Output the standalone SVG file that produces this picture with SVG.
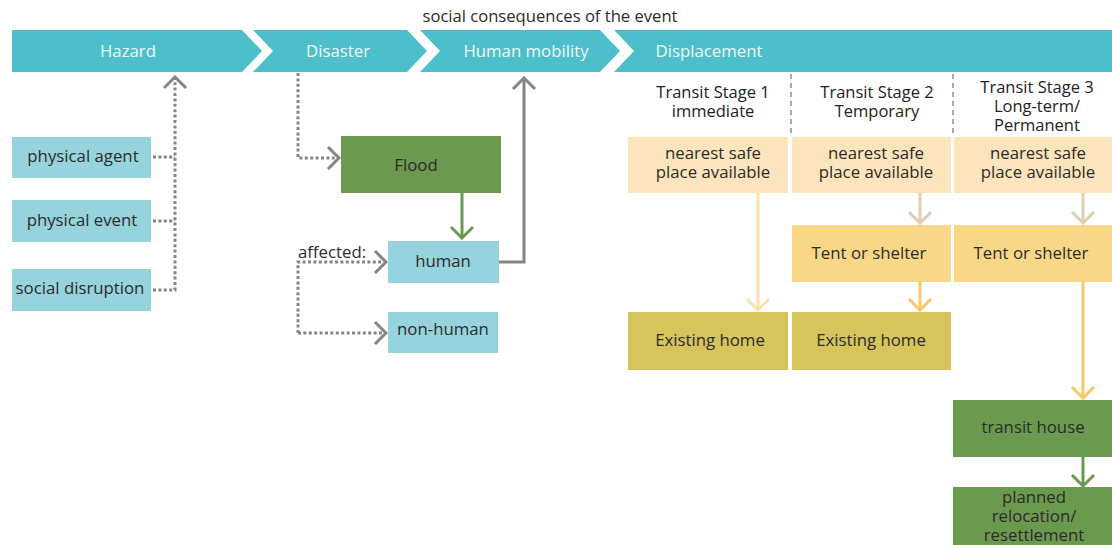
<svg xmlns="http://www.w3.org/2000/svg" width="1112" height="545" viewBox="0 0 1112 545">
  <style>
    text { font-family: "Open Sans", "Noto Sans", "Liberation Sans", sans-serif; fill: #2b2b2b; }
    .band { fill: #4dbfca; }
    .band-label { fill: #eefafb; font-size: 16.8px; text-anchor: middle; }
    .title { font-size: 16.6px; text-anchor: middle; }
    .lbl { font-size: 16.8px; text-anchor: middle; }
    .head { font-size: 16.5px; text-anchor: middle; fill: #222; }
    .blue { fill: #96d3dd; }
    .green { fill: #6b9a4f; }
    .peach { fill: #fce5bc; }
    .sand { fill: #f9d786; }
    .olive { fill: #d5c55b; }
    .dot { fill: none; stroke: #858585; stroke-width: 3; stroke-dasharray: 3 2.4; }
    .gray { fill: none; stroke: #858585; stroke-width: 3; }
    .sep { fill: none; stroke: #555; stroke-width: 1; stroke-dasharray: 5 4; }
  </style>
  <defs>
    <marker id="ah-gray" viewBox="-13 -13 15 26" refX="0" refY="0" markerWidth="15" markerHeight="26" markerUnits="userSpaceOnUse" orient="auto">
      <path d="M-11,-11 L0,0 L-11,11" fill="none" stroke="#858585" stroke-width="3"/>
    </marker>
    <marker id="ah-green" viewBox="-13 -13 15 26" refX="0" refY="0" markerWidth="15" markerHeight="26" markerUnits="userSpaceOnUse" orient="auto">
      <path d="M-11,-11 L0,0 L-11,11" fill="none" stroke="#6b9a4f" stroke-width="3"/>
    </marker>
    <marker id="ah-light" viewBox="-13 -13 15 26" refX="0" refY="0" markerWidth="15" markerHeight="26" markerUnits="userSpaceOnUse" orient="auto">
      <path d="M-11,-11 L0,0 L-11,11" fill="none" stroke="#fbe0ae" stroke-width="3"/>
    </marker>
    <marker id="ah-beige" viewBox="-13 -13 15 26" refX="0" refY="0" markerWidth="15" markerHeight="26" markerUnits="userSpaceOnUse" orient="auto">
      <path d="M-11,-11 L0,0 L-11,11" fill="none" stroke="#dccdb3" stroke-width="3"/>
    </marker>
    <marker id="ah-orange" viewBox="-13 -13 15 26" refX="0" refY="0" markerWidth="15" markerHeight="26" markerUnits="userSpaceOnUse" orient="auto">
      <path d="M-11,-11 L0,0 L-11,11" fill="none" stroke="#f8c868" stroke-width="3"/>
    </marker>
  </defs>

  <rect width="1112" height="545" fill="#ffffff"/>

  <text class="title" x="550" y="22">social consequences of the event</text>

  <!-- process band -->
  <g id="band-hazard">
    <path class="band" d="M12,30 H242 L262,51 L242,72 H12 Z"/>
    <text class="band-label" x="128" y="57">Hazard</text>
  </g>
  <g id="band-disaster">
    <path class="band" d="M253,30 H407 L427,51 L407,72 H253 L273,51 Z"/>
    <text class="band-label" x="338" y="57">Disaster</text>
  </g>
  <g id="band-mobility">
    <path class="band" d="M420,30 H600 L620,51 L600,72 H420 L440,51 Z"/>
    <text class="band-label" x="526" y="57">Human mobility</text>
  </g>
  <g id="band-displacement">
    <path class="band" d="M614,30 H1112 V72 H614 L634,51 Z"/>
    <text class="band-label" x="709" y="57">Displacement</text>
  </g>

  <!-- stage headers -->
  <g id="stage-1">
    <text class="head" x="713" y="98">Transit Stage 1</text>
    <text class="head" x="713" y="117">immediate</text>
  </g>
  <g id="stage-2">
    <text class="head" x="877" y="98">Transit Stage 2</text>
    <text class="head" x="877" y="117">Temporary</text>
  </g>
  <g id="stage-3">
    <text class="head" x="1037" y="93">Transit Stage 3</text>
    <text class="head" x="1037" y="112">Long-term/</text>
    <text class="head" x="1037" y="131">Permanent</text>
  </g>
  <g id="separators">
    <line class="sep" x1="791" y1="74" x2="791" y2="136"/>
    <line class="sep" x1="953" y1="74" x2="953" y2="136"/>
  </g>

  <!-- connectors -->
  <g id="connectors">
    <path class="dot" d="M153,157 H175"/>
    <path class="dot" d="M153,221 H175"/>
    <path class="dot" d="M153,290 H175 V77" marker-end="url(#ah-gray)"/>
    <path class="dot" d="M298,73 V158 H339" marker-end="url(#ah-gray)"/>
    <path class="dot" d="M298,333 V262 H386" marker-end="url(#ah-gray)"/>
    <path class="dot" d="M298,333 H386" marker-end="url(#ah-gray)"/>
    <path fill="none" stroke="#6b9a4f" stroke-width="3" d="M462,193 V238" marker-end="url(#ah-green)"/>
    <path class="gray" d="M499,262 H524 V78" marker-end="url(#ah-gray)"/>
    <path fill="none" stroke="#fbe0ae" stroke-width="3" d="M758,193 V310" marker-end="url(#ah-light)"/>
    <path fill="none" stroke="#dccdb3" stroke-width="3" d="M920,193 V223" marker-end="url(#ah-beige)"/>
    <path fill="none" stroke="#f8c868" stroke-width="3" d="M920,282 V310" marker-end="url(#ah-orange)"/>
    <path fill="none" stroke="#dccdb3" stroke-width="3" d="M1083,193 V223" marker-end="url(#ah-beige)"/>
    <path fill="none" stroke="#f8c868" stroke-width="3" d="M1083,282 V398" marker-end="url(#ah-orange)"/>
    <path fill="none" stroke="#6b9a4f" stroke-width="3" d="M1083,457 V486" marker-end="url(#ah-green)"/>
  </g>

  <!-- hazard components -->
  <g id="physical-agent">
    <rect class="blue" x="12" y="137" width="139" height="41"/>
    <text class="lbl" x="83" y="162">physical agent</text>
  </g>
  <g id="physical-event">
    <rect class="blue" x="12" y="200" width="139" height="42"/>
    <text class="lbl" x="82" y="226">physical event</text>
  </g>
  <g id="social-disruption">
    <rect class="blue" x="12" y="269" width="139" height="42"/>
    <text class="lbl" x="80" y="294">social disruption</text>
  </g>

  <!-- disaster -->
  <g id="flood">
    <rect class="green" x="341" y="136" width="160" height="57"/>
    <text class="lbl" x="416" y="171">Flood</text>
  </g>
  <text id="affected-label" x="298" y="258" style="font-size:16.8px">affected:</text>
  <g id="human">
    <rect class="blue" x="388" y="241" width="111" height="42"/>
    <text class="lbl" x="443" y="267">human</text>
  </g>
  <g id="non-human">
    <rect class="blue" x="388" y="312" width="110" height="41"/>
    <text class="lbl" x="443" y="335">non-human</text>
  </g>

  <!-- transit stage 1 -->
  <g id="safe-place-1">
    <rect class="peach" x="628" y="137" width="160" height="56"/>
    <text class="lbl" x="713" y="159">nearest safe</text>
    <text class="lbl" x="713" y="178">place available</text>
  </g>
  <g id="home-1">
    <rect class="olive" x="628" y="312" width="160" height="58"/>
    <text class="lbl" x="710" y="346">Existing home</text>
  </g>

  <!-- transit stage 2 -->
  <g id="safe-place-2">
    <rect class="peach" x="792" y="137" width="159" height="56"/>
    <text class="lbl" x="876" y="159">nearest safe</text>
    <text class="lbl" x="876" y="178">place available</text>
  </g>
  <g id="shelter-2">
    <rect class="sand" x="792" y="225" width="159" height="57"/>
    <text class="lbl" x="869" y="259">Tent or shelter</text>
  </g>
  <g id="home-2">
    <rect class="olive" x="792" y="312" width="159" height="58"/>
    <text class="lbl" x="871" y="346">Existing home</text>
  </g>

  <!-- transit stage 3 -->
  <g id="safe-place-3">
    <rect class="peach" x="954" y="137" width="158" height="56"/>
    <text class="lbl" x="1038" y="159">nearest safe</text>
    <text class="lbl" x="1038" y="178">place available</text>
  </g>
  <g id="shelter-3">
    <rect class="sand" x="954" y="225" width="158" height="57"/>
    <text class="lbl" x="1031" y="259">Tent or shelter</text>
  </g>
  <g id="transit-house">
    <rect class="green" x="953" y="400" width="159" height="57"/>
    <text class="lbl" x="1033" y="433">transit house</text>
  </g>
  <g id="relocation">
    <rect class="green" x="953" y="487" width="159" height="58"/>
    <text class="lbl" x="1034" y="503">planned</text>
    <text class="lbl" x="1034" y="522">relocation/</text>
    <text class="lbl" x="1034" y="541">resettlement</text>
  </g>
</svg>
